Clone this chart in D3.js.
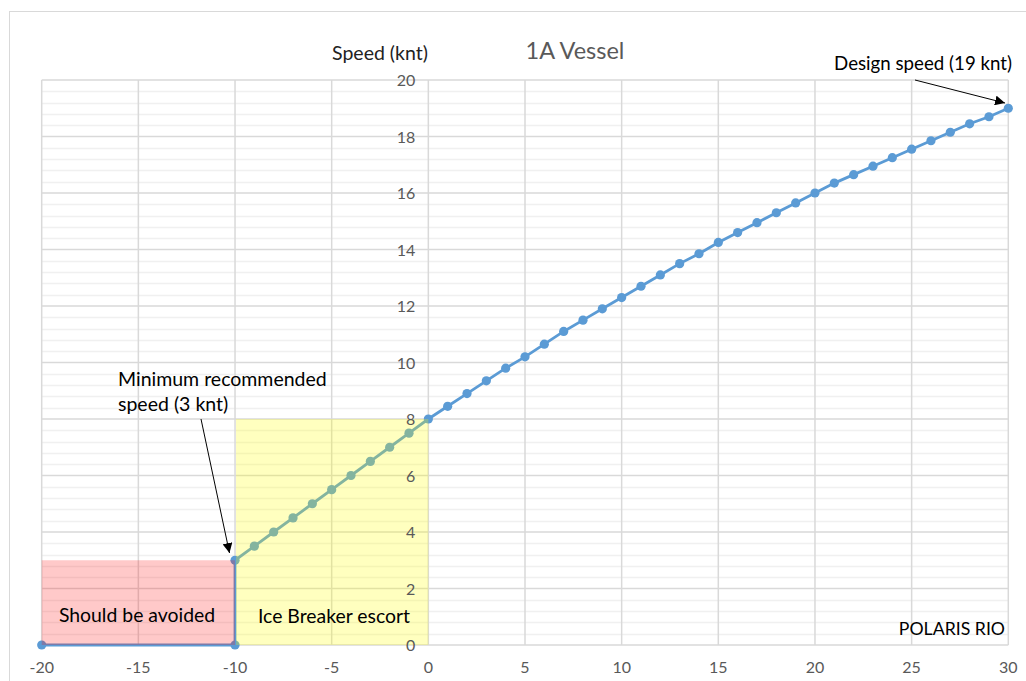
<!DOCTYPE html>
<html><head><meta charset="utf-8">
<script src="https://cdn.jsdelivr.net/npm/d3@7"></script>
<style>
html,body{margin:0;padding:0;background:#fff;}
text{font-family:Lato,"Open Sans",sans-serif;}
</style></head>
<body>
<svg id="c" width="1026" height="681"></svg>
<script>
// Data
const xValues = [-20,-10,-10,-9,-8,-7,-6,-5,-4,-3,-2,-1,0,1,2,3,4,5,6,7,8,9,10,11,12,13,14,15,16,17,18,19,20,21,22,23,24,25,26,27,28,29,30];
const speedValues = [0,0,3,3.5,4,4.5,5,5.5,6,6.5,7,7.5,8,8.45,8.9,9.35,9.8,10.2,10.65,11.1,11.5,11.9,12.3,12.7,13.1,13.5,13.85,14.25,14.6,14.95,15.3,15.65,16,16.35,16.65,16.95,17.25,17.55,17.85,18.15,18.45,18.7,19];
const xTicks = [-20,-15,-10,-5,0,5,10,15,20,25,30];
const yTicks = [0,2,4,6,8,10,12,14,16,18,20];
const zoneAvoid = {x0:-20, x1:-10, y0:0, y1:3, label:"Should be avoided"};
const zoneEscort = {x0:-10, x1:0, y0:0, y1:8, label:"Ice Breaker escort"};

const svg = d3.select("#c");
const L=41.7, R=1008.3, T=80, B=645;
const x = d3.scaleLinear().domain([-20,30]).range([L,R]);
const y = d3.scaleLinear().domain([0,20]).range([B,T]);

// outer chart border
svg.append("rect").attr("x",9.5).attr("y",11.5).attr("width",1030).attr("height",700)
  .attr("fill","none").attr("stroke","#d9d9d9").attr("stroke-width",1);

// minor horizontal gridlines
const minor = d3.range(0,20.001,0.4).filter(v=>Math.abs(v/2-Math.round(v/2))>0.01);
svg.append("g").selectAll("line").data(minor).join("line")
  .attr("x1",L).attr("x2",R).attr("y1",d=>Math.round(y(d))+0.5).attr("y2",d=>Math.round(y(d))+0.5)
  .attr("stroke","#f0f0f0").attr("stroke-width",1.5);
// major horizontal gridlines
svg.append("g").selectAll("line").data(yTicks).join("line")
  .attr("x1",L).attr("x2",R).attr("y1",d=>y(d)).attr("y2",d=>y(d))
  .attr("stroke","#d9d9d9").attr("stroke-width",1.5);
// vertical gridlines
svg.append("g").selectAll("line").data(xTicks).join("line")
  .attr("x1",d=>x(d)).attr("x2",d=>x(d)).attr("y1",T).attr("y2",B)
  .attr("stroke","#d9d9d9").attr("stroke-width",1.5);

// series line
const line = d3.line().x((d,i)=>x(xValues[i])).y(d=>y(d));
svg.append("path").datum(speedValues).attr("d",line)
  .attr("fill","none").attr("stroke","#5b9bd5").attr("stroke-width",2.8);
svg.append("g").selectAll("circle").data(speedValues).join("circle")
  .attr("cx",(d,i)=>x(xValues[i])).attr("cy",d=>y(d)).attr("r",4.6).attr("fill","#5b9bd5");

// zones (semi-transparent overlays)
svg.append("rect").attr("x",x(zoneAvoid.x0)).attr("y",y(zoneAvoid.y1))
  .attr("width",x(zoneAvoid.x1)-x(zoneAvoid.x0)).attr("height",y(zoneAvoid.y0)-y(zoneAvoid.y1))
  .attr("fill","rgb(255,0,0)").attr("fill-opacity",0.21);
svg.append("rect").attr("x",x(zoneEscort.x0)+1).attr("y",y(zoneEscort.y1))
  .attr("width",x(zoneEscort.x1)-x(zoneEscort.x0)-1).attr("height",y(zoneEscort.y0)-y(zoneEscort.y1))
  .attr("fill","rgb(255,255,0)").attr("fill-opacity",0.25);

// y tick labels (axis at x=0)
svg.append("g").selectAll("text").data(yTicks).join("text")
  .attr("x",x(0)-13).attr("y",d=>y(d)+6).attr("text-anchor","end")
  .attr("font-size",16).attr("fill","#595959").text(d=>d);
// x tick labels
svg.append("g").selectAll("text").data(xTicks).join("text")
  .attr("x",d=>x(d)).attr("y",673).attr("text-anchor","middle")
  .attr("font-size",16).attr("fill","#595959").text(d=>d);

// titles
svg.append("text").attr("x",575).attr("y",59).attr("text-anchor","middle")
  .attr("font-size",23.5).attr("fill","#595959").text("1A Vessel");
svg.append("text").attr("x",380).attr("y",60).attr("text-anchor","middle")
  .attr("font-size",19.5).attr("fill","#222").text("Speed (knt)");

// annotations
svg.append("defs").append("marker").attr("id","ah").attr("viewBox","0 0 10 10")
  .attr("refX",10).attr("refY",5).attr("markerWidth",10).attr("markerHeight",10)
  .attr("markerUnits","userSpaceOnUse").attr("orient","auto")
  .append("path").attr("d","M0,0 L10,5 L0,10 Z").attr("fill","#000");
svg.append("line").attr("x1",201).attr("y1",419).attr("x2",229.5).attr("y2",553)
  .attr("stroke","#000").attr("stroke-width",1).attr("marker-end","url(#ah)");
svg.append("line").attr("x1",915).attr("y1",80).attr("x2",1005).attr("y2",103)
  .attr("stroke","#000").attr("stroke-width",1).attr("marker-end","url(#ah)");

svg.append("text").attr("x",118).attr("y",386).attr("font-size",19.5).attr("fill","#000").text("Minimum recommended");
svg.append("text").attr("x",118).attr("y",411).attr("font-size",19.5).attr("fill","#000").text("speed (3 knt)");
svg.append("text").attr("x",1012).attr("y",70).attr("text-anchor","end").attr("font-size",18.7).attr("fill","#000").text("Design speed (19 knt)");

svg.append("text").attr("x",137).attr("y",622).attr("text-anchor","middle").attr("font-size",19.4).attr("fill","#000").text(zoneAvoid.label);
svg.append("text").attr("x",334).attr("y",623).attr("text-anchor","middle").attr("font-size",19.4).attr("fill","#000").text(zoneEscort.label);
svg.append("text").attr("x",1005).attr("y",635).attr("text-anchor","end").attr("font-size",17.7).attr("fill","#000").text("POLARIS RIO");
</script>
</body></html>
